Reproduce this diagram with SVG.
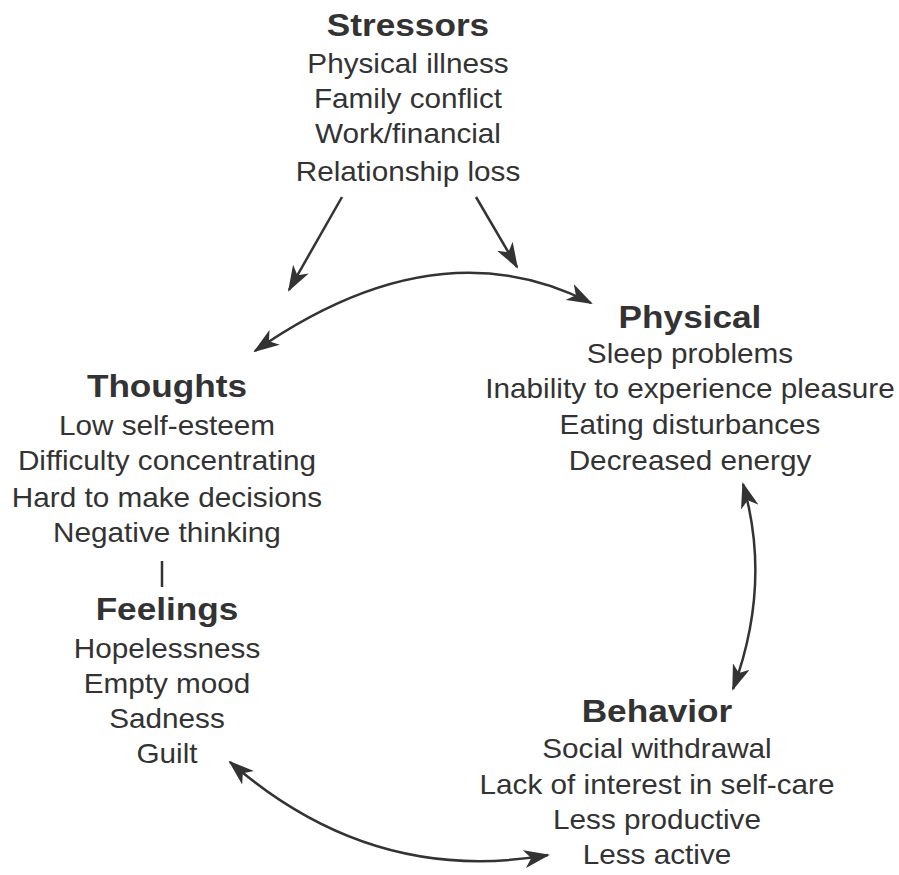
<svg xmlns="http://www.w3.org/2000/svg" width="899" height="875" viewBox="0 0 899 875">
  <style>
    text { font-family: "Liberation Sans", Arial, sans-serif; fill: #333; text-anchor: middle; }
    .title { font-size: 32px; font-weight: bold; }
    .item { font-size: 27px; }
    .link { fill: none; stroke: #333; stroke-width: 2.5; }
  </style>
  <defs>
    <marker id="head" viewBox="0 0 26 18" refX="24" refY="9" markerWidth="26" markerHeight="18" markerUnits="userSpaceOnUse" orient="auto-start-reverse">
      <path d="M0,0 L26,9 L0,18 L7,9 z" fill="#333"/>
    </marker>
  </defs>
  <rect width="899" height="875" fill="#fff"/>

  <g id="stressors" transform="translate(408,0) scale(1.1,1)">
    <text class="title" x="0" y="36">Stressors</text>
    <text class="item" x="0" y="73">Physical illness</text>
    <text class="item" x="0" y="108">Family conflict</text>
    <text class="item" x="0" y="143">Work/financial</text>
    <text class="item" x="0" y="181">Relationship loss</text>
  </g>

  <g id="physical" transform="translate(690,0) scale(1.1,1)">
    <text class="title" x="0" y="328">Physical</text>
    <text class="item" x="0" y="363">Sleep problems</text>
    <text class="item" x="0" y="398">Inability to experience pleasure</text>
    <text class="item" x="0" y="434">Eating disturbances</text>
    <text class="item" x="0" y="470">Decreased energy</text>
  </g>

  <g id="thoughts" transform="translate(167,0) scale(1.1,1)">
    <text class="title" x="0" y="397">Thoughts</text>
    <text class="item" x="0" y="435">Low self-esteem</text>
    <text class="item" x="0" y="470">Difficulty concentrating</text>
    <text class="item" x="0" y="507">Hard to make decisions</text>
    <text class="item" x="0" y="542">Negative thinking</text>
  </g>

  <g id="feelings" transform="translate(167,0) scale(1.1,1)">
    <text class="title" x="0" y="620">Feelings</text>
    <text class="item" x="0" y="658">Hopelessness</text>
    <text class="item" x="0" y="693">Empty mood</text>
    <text class="item" x="0" y="728">Sadness</text>
    <text class="item" x="0" y="763">Guilt</text>
  </g>

  <g id="behavior" transform="translate(657,0) scale(1.1,1)">
    <text class="title" x="0" y="722">Behavior</text>
    <text class="item" x="0" y="758">Social withdrawal</text>
    <text class="item" x="0" y="794">Lack of interest in self-care</text>
    <text class="item" x="0" y="829">Less productive</text>
    <text class="item" x="0" y="864">Less active</text>
  </g>

  <g id="connectors">
    <path class="link" d="M342,197 L289,290" marker-end="url(#head)"/>
    <path class="link" d="M476,197 L517,267" marker-end="url(#head)"/>
    <path class="link" d="M255,351 Q437,224 591,303" marker-start="url(#head)" marker-end="url(#head)"/>
    <path class="link" d="M743,484 Q772,584 733,689" marker-start="url(#head)" marker-end="url(#head)"/>
    <path class="link" d="M230,762 Q372,886 548,855" marker-start="url(#head)" marker-end="url(#head)"/>
    <path class="link" d="M162,561 L162,587" stroke-width="2"/>
  </g>
</svg>
